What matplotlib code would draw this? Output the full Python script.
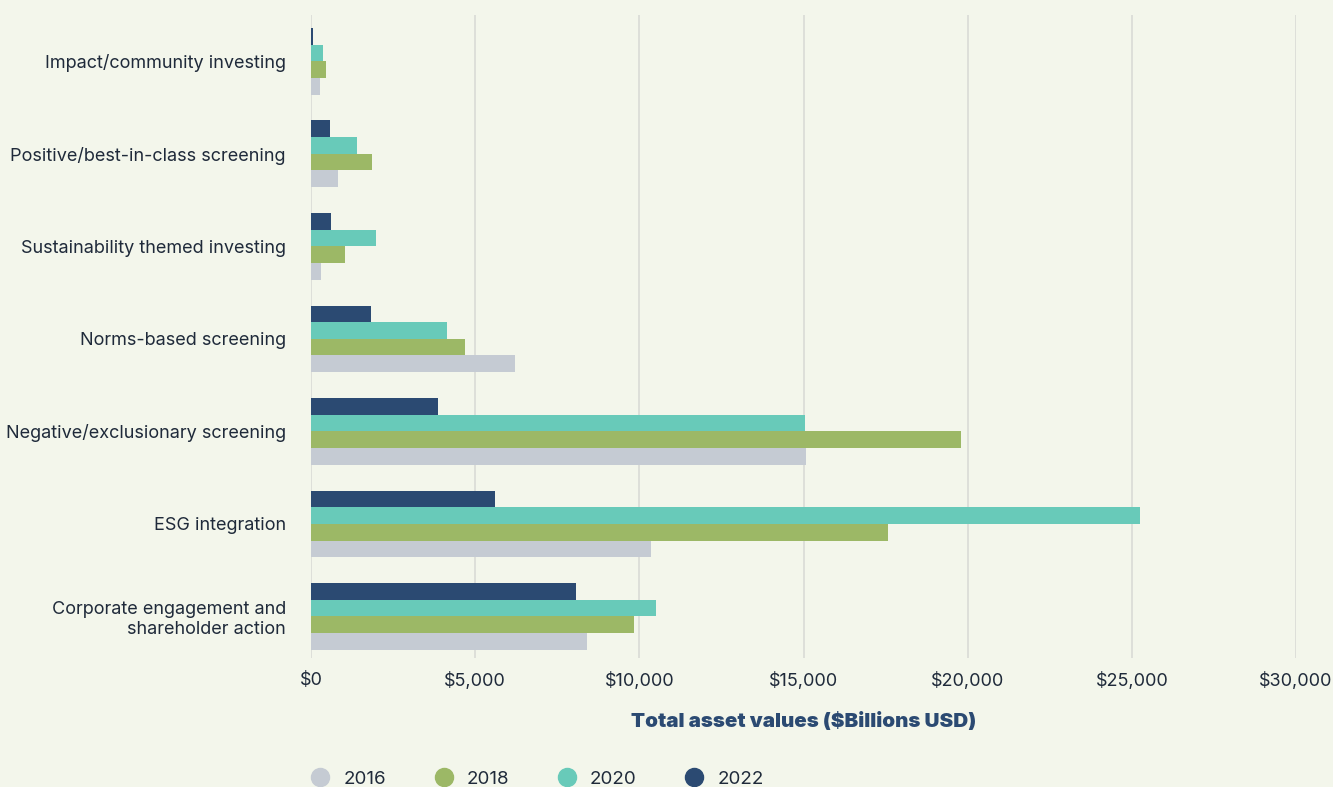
import numpy as np
import matplotlib.pyplot as plt
from matplotlib.lines import Line2D

plt.rcParams['font.family'] = ['Inter', 'DejaVu Sans']

# Datos (miles de millones USD)
categorias = ["Impact/community investing",
              "Positive/best-in-class screening",
              "Sustainability themed investing",
              "Norms-based screening",
              "Negative/exclusionary screening",
              "ESG integration",
              "Corporate engagement and\nshareholder action"]
anios = ["2016", "2018", "2020", "2022"]
v2016 = [265, 832, 295, 6223, 15077, 10356, 8407]
v2018 = [447, 1858, 1045, 4681, 19799, 17575, 9838]
v2020 = [356, 1401, 1980, 4143, 15047, 25251, 10509]
v2022 = [60, 589, 619, 1828, 3868, 5605, 8072]
colores = ["#c5cbd3", "#9cb866", "#68cab9", "#2b4a72"]

fondo = "#f3f6eb"
texto = "#1f2a3a"

fig = plt.figure(figsize=(13.33, 7.87), dpi=100, facecolor=fondo)
ax = fig.add_axes([311 / 1333, 1 - 658 / 787, 985 / 1333, 643 / 787], facecolor=fondo)

y = np.arange(len(categorias))
alto = 0.18
series = [v2016, v2018, v2020, v2022]
# 2016 abajo, 2022 arriba
offsets = [1.5 * alto, 0.5 * alto, -0.5 * alto, -1.5 * alto]
for vals, col, off, lab in zip(series, colores, offsets, anios):
    ax.barh(y + off, vals, height=alto, color=col, label=lab, zorder=3)

ax.set_xlim(0, 30000)
ax.set_ylim(6.45, -0.5)
ax.set_xticks(np.arange(0, 30001, 5000))
ax.set_xticklabels([f"${v:,}" for v in range(0, 30001, 5000)])
ax.set_yticks(y)
ax.set_yticklabels(categorias)
ax.tick_params(axis='both', length=0, labelsize=13, colors=texto)
ax.tick_params(axis='y', pad=18)
ax.tick_params(axis='x', pad=10)
for lbl in ax.get_yticklabels():
    lbl.set_horizontalalignment('right')
    lbl.set_multialignment('right')
ax.grid(axis='x', color="#d9dbd6", linewidth=1.2, zorder=0)
for s in ax.spines.values():
    s.set_visible(False)

ax.set_xlabel("Total asset values ($Billions USD)", fontsize=14.8,
              fontweight='black', color="#2b4a72", labelpad=16)

handles = [Line2D([], [], marker='o', linestyle='', markersize=13,
                  markerfacecolor=c, markeredgecolor=c) for c in colores]
fig.legend(handles, anios, loc='center left', bbox_to_anchor=(294 / 1333, 1 - 779 / 787),
           ncol=4, frameon=False, fontsize=13.5, labelcolor=texto,
           handletextpad=0.75, columnspacing=2.55, handlelength=1.0)

fig.savefig("out.png", dpi=100, facecolor=fondo)
